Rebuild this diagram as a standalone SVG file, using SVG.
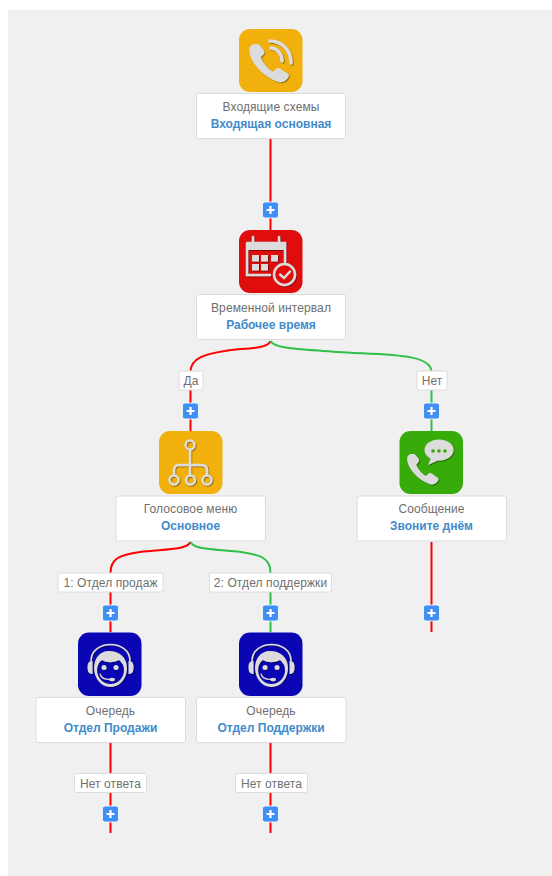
<svg xmlns="http://www.w3.org/2000/svg" width="552" height="876" viewBox="0 0 552 876">
<style>
.ln{fill:none;stroke-width:2}
.r{stroke:#ff0000}
.g{stroke:#2fc04a}
.box{fill:#fff;stroke:#dcdcdc;stroke-width:1}
.t{font-family:"Liberation Sans",Arial,sans-serif;font-size:12px;letter-spacing:.1px;fill:#6f6f6f;text-anchor:middle}
.b{font-family:"Liberation Sans",Arial,sans-serif;font-size:12px;font-weight:700;fill:#428bca;text-anchor:middle}
.tag{fill:#fff;stroke:#dcdcdc;stroke-width:1}
.ic{fill:#dcdcdc}
.is{fill:none;stroke:#dcdcdc;stroke-linecap:round}
</style>
<defs>
<filter id="sh" x="-10%" y="-10%" width="125%" height="125%"><feDropShadow dx="0.8" dy="0.8" stdDeviation="0.4" flood-color="#000" flood-opacity="0.55"/></filter>
<g id="plus">
<rect x="-8" y="-8" width="16" height="16" rx="2.500" fill="#408ff5" stroke="#fff" stroke-width="0.8"/>
<path d="M-4 0H4M0-4V4" stroke="#fff" stroke-width="2.200"/>
</g>
<path id="handset" d="M-17.500-19C-20-19-23-17-23-13C-23-2-10 13 5 18C9 19 13 17 15 13C16 11 15 10 13 9L7 5C5 4 4 4 2 6L0 8C-4 6-10 0-12-6L-10-8C-8-10-8-11-9-13L-13-18C-14-19-15.500-19-17.500-19Z"/>
<g id="agent">
<path class="is" stroke-width="1.600" d="M91 661C91 639 130 639 130 661"/>
<path class="ic" d="M87.500 667C87.500 663 89 661 92.500 661V674C89 674 87.500 672 87.500 667ZM133.500 667C133.500 663 132 661 128.500 661V674C132 674 133.500 672 133.500 667Z"/>
<path class="ic" fill-rule="evenodd" d="M109 651C99 651 94 659 94 668C94 678 101 687 110.500 687C120 687 127 678 127 668C127 658 120 651 109 651ZM102 660C107 663 113 663 119 660C122 663 124 665 124 670C124 678 118 684 110.500 684C103 684 97 678 97 670C97 666 99 662 102 660Z"/>
<path class="is" stroke-width="1.200" d="M100 674C101 678 104 679.500 110 679.500"/>
<ellipse class="ic" cx="112" cy="679.500" rx="3" ry="1.700"/>
<circle class="ic" cx="104" cy="667.500" r="2.500"/>
<circle class="ic" cx="116" cy="667.500" r="2.500"/>
</g>
</defs>

<rect x="8" y="10" width="544" height="866" fill="#f0f0f0"/>

<g id="connectors">
<path class="ln r" d="M270.500 139V230"/>
<path class="ln r" d="M270.500 341C268 350 238 348 225 351C205 354 190.500 358 190.500 372V431"/>
<path class="ln g" d="M270.500 341C275 349 300 349 337 352C385 355 431.500 353 431.500 372V431"/>
<path class="ln r" d="M190.500 542C186 551 160 549 140 552C120 555 110.500 558 110.500 573V632"/>
<path class="ln g" d="M190.500 542C195 551 221 549 241 552C261 555 270.500 558 270.500 573V632"/>
<path class="ln r" d="M431.500 542V632"/>
<path class="ln r" d="M110.500 743V833"/>
<path class="ln r" d="M270.500 743V833"/>
</g>

<g id="tags">
<g id="tag-da"><rect class="tag" x="179" y="371" width="24" height="19" rx="2"/><text class="t" x="191" y="385">Да</text></g>
<g id="tag-net"><rect class="tag" x="417" y="371" width="30" height="19" rx="2"/><text class="t" x="432" y="385">Нет</text></g>
<g id="tag-1"><rect class="tag" x="58" y="573" width="105" height="19" rx="2"/><text class="t" x="110.500" y="587">1: Отдел продаж</text></g>
<g id="tag-2"><rect class="tag" x="209.500" y="573" width="122" height="19" rx="2"/><text class="t" x="270.500" y="587">2: Отдел поддержки</text></g>
<g id="tag-na1"><rect class="tag" x="74.500" y="773.500" width="72" height="19" rx="2"/><text class="t" x="110.500" y="788">Нет ответа</text></g>
<g id="tag-na2"><rect class="tag" x="235.500" y="773.500" width="72" height="19" rx="2"/><text class="t" x="271.500" y="788">Нет ответа</text></g>
</g>

<g id="add-buttons">
<use href="#plus" x="270.500" y="210"/>
<use href="#plus" x="190.500" y="411"/>
<use href="#plus" x="431.500" y="411"/>
<use href="#plus" x="110.500" y="613"/>
<use href="#plus" x="270.500" y="613"/>
<use href="#plus" x="431.500" y="613"/>
<use href="#plus" x="110.500" y="814"/>
<use href="#plus" x="270.500" y="814"/>
</g>

<g id="node-incoming">
<rect x="239" y="29" width="63.500" height="63" rx="11" fill="#f2b00d"/>
<g filter="url(#sh)">
<use href="#handset" class="ic" transform="translate(273,63.500) scale(1.030)"/>
<path class="is" stroke-width="3.500" d="M271 48C277 48 282 54 282 61"/>
<path class="is" stroke-width="3.500" d="M270 41C282 41 291 50 291 63"/>
</g>
<rect class="box" x="196.500" y="93.500" width="149" height="45" rx="2"/>
<text class="t" x="271" y="111">Входящие схемы</text>
<text class="b" x="271" y="128">Входящая основная</text>
</g>

<g id="node-time">
<rect x="239" y="230" width="63.500" height="63" rx="11" fill="#e00d0d"/>
<g filter="url(#sh)">
<path class="is" stroke-width="2.500" d="M247 243H285V262M270 275H247V243" stroke-linecap="square"/>
<path d="M246 242H286V250H246Z" class="ic"/>
<path class="is" stroke-width="2.500" d="M253 237V246M279 237V246"/>
<g class="ic"><rect x="252" y="255" width="7" height="6.500"/><rect x="261" y="255" width="7" height="6.500"/><rect x="271" y="255" width="7" height="6.500"/><rect x="252" y="264" width="7" height="6.500"/><rect x="261" y="264" width="7" height="6.500"/></g>
<circle cx="284.500" cy="274.500" r="10.500" fill="#e00d0d" stroke="#dcdcdc" stroke-width="2.500"/>
<path class="is" stroke-width="2.500" d="M280 274.500L284 278L290 271.500"/>
</g>
<rect class="box" x="196.500" y="294.500" width="149" height="45" rx="2"/>
<text class="t" x="271" y="312">Временной интервал</text>
<text class="b" x="271" y="329">Рабочее время</text>
</g>

<g id="node-menu">
<rect x="159" y="431" width="63.500" height="63" rx="11" fill="#f2b00d"/>
<g filter="url(#sh)" fill="none" stroke="#dcdcdc" stroke-width="2.500">
<circle cx="190" cy="445" r="4.500"/>
<circle cx="174" cy="480" r="4.500"/>
<circle cx="190.500" cy="480" r="4.500"/>
<circle cx="207" cy="480" r="4.500"/>
<path d="M190 450V475M174 475V470C174 466 176 465 179 465H201C205 465 207 466 207 470V475"/>
</g>
<rect class="box" x="116" y="496" width="149.500" height="45" rx="2"/>
<text class="t" x="190.500" y="513">Голосовое меню</text>
<text class="b" x="190.500" y="530">Основное</text>
</g>

<g id="node-message">
<rect x="399.500" y="431" width="63.500" height="63" rx="11" fill="#36ab09"/>
<g filter="url(#sh)">
<use href="#handset" class="ic" transform="translate(426,469.500) scale(0.820)"/>
<ellipse class="ic" cx="439" cy="450" rx="14.500" ry="10.500"/>
<path class="ic" d="M431 458L428 465L441 459Z"/>
</g>
<g fill="#36ab09"><circle cx="433" cy="451" r="1.800"/><circle cx="439" cy="451" r="1.800"/><circle cx="445" cy="451" r="1.800"/></g>
<rect class="box" x="357" y="496" width="149.500" height="45" rx="2"/>
<text class="t" x="431.500" y="513">Сообщение</text>
<text class="b" x="431.500" y="530">Звоните днём</text>
</g>

<g id="node-queue-sales">
<rect x="78" y="632.500" width="63.500" height="63.500" rx="11" fill="#0a06b4"/>
<use href="#agent" filter="url(#sh)"/>
<rect class="box" x="36" y="697.500" width="149.500" height="45" rx="2"/>
<text class="t" x="110.500" y="715">Очередь</text>
<text class="b" x="110.500" y="732">Отдел Продажи</text>
</g>

<g id="node-queue-support">
<rect x="239" y="632.500" width="63.500" height="63.500" rx="11" fill="#0a06b4"/>
<use href="#agent" x="161" filter="url(#sh)"/>
<rect class="box" x="196.500" y="697.500" width="149.500" height="45" rx="2"/>
<text class="t" x="271" y="715">Очередь</text>
<text class="b" x="271" y="732">Отдел Поддержки</text>
</g>
</svg>
